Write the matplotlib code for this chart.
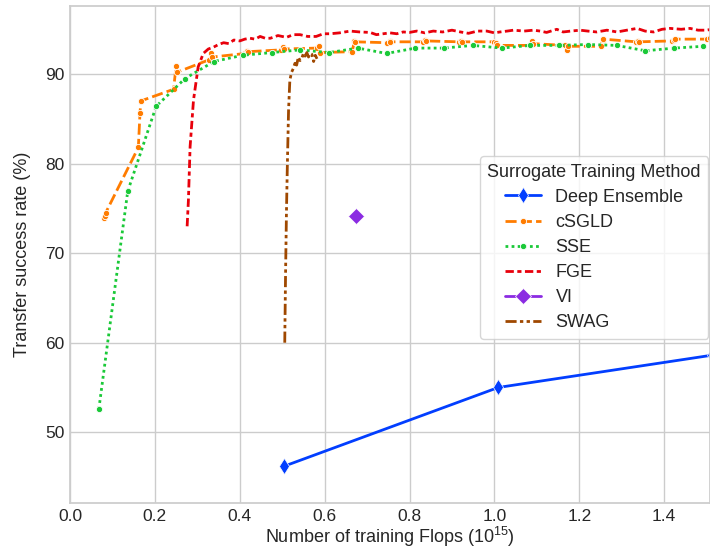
import matplotlib
matplotlib.use("Agg")
import matplotlib.pyplot as plt
import seaborn as sns

sns.set_theme(style="whitegrid")
plt.rcParams["font.family"] = ["Liberation Sans", "DejaVu Sans"]
plt.rcParams["mathtext.fontset"] = "custom"
plt.rcParams["mathtext.rm"] = "Liberation Sans"
plt.rcParams["mathtext.it"] = "Liberation Sans:italic"
plt.rcParams["mathtext.bf"] = "Liberation Sans:bold"

# Deep Ensemble: one point per additional ensemble member
de_flops = [0.504, 1.009, 1.512]
de_acc = [46.2, 55.0, 58.6]

# cSGLD: three samples collected at the end of each cycle
csgld_flops = [
    0.079, 0.082, 0.084,
    0.161, 0.165, 0.167,
    0.244, 0.250, 0.252,
    0.328, 0.333, 0.335,
    0.413, 0.418, 0.420,
    0.497, 0.502, 0.504,
    0.581, 0.586, 0.588,
    0.665, 0.670, 0.672,
    0.748, 0.753, 0.755,
    0.832, 0.837, 0.839,
    0.916, 0.921, 0.923,
    0.999, 1.004, 1.006,
    1.083, 1.088, 1.090,
    1.167, 1.172, 1.174,
    1.250, 1.255, 1.257,
    1.334, 1.339, 1.341,
    1.418, 1.423, 1.425,
    1.502, 1.507, 1.509,
]
csgld_acc = [
    73.9, 74.2, 74.5,
    81.8, 85.7, 87.0,
    88.3, 90.9, 90.2,
    91.6, 92.3, 91.9,
    92.3, 92.6, 92.5,
    92.7, 93.0, 92.8,
    92.9, 93.1, 92.4,
    92.5, 93.7, 93.6,
    93.5, 93.7, 93.6,
    93.6, 93.8, 93.7,
    93.6, 93.7, 93.6,
    93.6, 93.5, 93.2,
    93.2, 93.7, 93.4,
    93.2, 92.7, 93.1,
    93.1, 93.8, 93.9,
    93.6, 93.7, 93.6,
    93.7, 93.8, 93.9,
    93.9, 94.0, 94.0,
]

# SSE: one snapshot per cycle
sse_flops = [0.068, 0.136, 0.203, 0.271, 0.339, 0.407, 0.475, 0.542,
             0.610, 0.678, 0.746, 0.814, 0.881, 0.949, 1.017, 1.085,
             1.153, 1.220, 1.288, 1.356, 1.424, 1.492]
sse_acc = [52.6, 76.9, 86.4, 89.5, 91.4, 92.1, 92.4, 92.7,
           92.4, 92.9, 92.3, 92.9, 92.9, 93.2, 92.9, 93.2,
           93.2, 93.3, 93.2, 92.6, 92.9, 93.1]

# FGE: pretraining followed by many short cycles
fge_flops = [0.276, 0.279, 0.283, 0.291, 0.302, 0.314, 0.326, 0.338, 0.350, 0.362,
             0.374, 0.386, 0.400, 0.412, 0.424, 0.436, 0.448, 0.460, 0.472, 0.490,
             0.510, 0.526, 0.542, 0.560, 0.580, 0.597, 0.613, 0.635, 0.660, 0.683,
             0.707, 0.722, 0.738, 0.754, 0.770, 0.785, 0.800, 0.817, 0.836, 0.856,
             0.878, 0.900, 0.920, 0.939, 0.960, 0.982, 1.000, 1.013, 1.030, 1.045,
             1.070, 1.092, 1.108, 1.123, 1.147, 1.162, 1.180, 1.202, 1.220, 1.241,
             1.265, 1.289, 1.312, 1.336, 1.355, 1.375, 1.395, 1.414, 1.440, 1.461,
             1.480, 1.500, 1.512]
fge_acc = [73.0, 75.9, 81.9, 87.1, 90.8, 92.3, 92.8, 93.0, 93.3, 93.5,
           93.4, 93.8, 93.7, 93.9, 94.0, 93.9, 94.2, 94.0, 94.0, 94.3,
           94.1, 94.4, 94.4, 94.2, 94.2, 94.5, 94.5, 94.6, 94.8, 94.7,
           94.65, 94.4, 94.5, 94.6, 94.5, 94.7, 94.65, 94.8, 94.6, 94.8,
           94.7, 94.9, 94.7, 94.55, 94.8, 94.8, 94.6, 94.7, 94.8, 94.9,
           94.8, 94.9, 94.8, 94.65, 95.0, 94.7, 94.8, 94.9, 94.8, 94.7,
           94.9, 94.7, 94.9, 95.1, 94.8, 94.7, 95.0, 95.1, 95.0, 95.1,
           94.9, 94.9, 95.0]

# VI: single surrogate
vi_flops = [0.675]
vi_acc = [74.1]

# SWAG: pretraining followed by weight-space sampling
swag_flops = [0.506, 0.508, 0.510, 0.512, 0.515, 0.518, 0.522, 0.526, 0.530, 0.534,
              0.538, 0.542, 0.546, 0.550, 0.554, 0.558, 0.562, 0.566, 0.570, 0.574,
              0.578, 0.582]
swag_acc = [60.0, 68.0, 74.5, 79.5, 86.0, 89.3, 90.2, 90.6, 91.2, 91.0,
            91.9, 91.5, 91.75, 92.3, 92.0, 92.4, 91.9, 92.3, 92.2, 91.4,
            92.1, 91.7]

pal = sns.color_palette("bright")
c_blue, c_orange, c_green, c_red, c_purple, c_brown = pal[0], pal[1], pal[2], pal[3], pal[4], pal[5]

fig = plt.figure(figsize=(7.10, 5.51), dpi=100)
ax = fig.add_axes([70 / 710, 48 / 551, 640 / 710, 497 / 551])

lw = 2.0
ax.plot(de_flops, de_acc, color=c_blue, lw=lw, marker="d", ms=8,
        mec="white", mew=0.5, label="Deep Ensemble")
ax.plot(csgld_flops, csgld_acc, color=c_orange, lw=lw, ls="--", dashes=(4, 1.5),
        marker="o", ms=4.5, mec="white", mew=0.6, label="cSGLD")
ax.plot(sse_flops, sse_acc, color=c_green, lw=lw, ls=":", dashes=(1, 1.2),
        marker="o", ms=4.5, mec="white", mew=0.6, label="SSE")
ax.plot(fge_flops, fge_acc, color=c_red, lw=lw, dashes=(3, 1.25, 1.5, 1.25),
        label="FGE")
ax.plot(vi_flops, vi_acc, color=c_purple, lw=lw, marker="D", ms=8,
        mec="white", mew=0.5, label="VI")
ax.plot(swag_flops, swag_acc, color=c_brown, lw=lw, dashes=(4, 1.2, 1.2, 1.2, 1.2, 1.2),
        label="SWAG")

ax.set_xlim(0, 1.508)
ax.set_ylim(42.1, 97.6)
ax.set_xticks([0.0, 0.2, 0.4, 0.6, 0.8, 1.0, 1.2, 1.4])
ax.set_yticks([50, 60, 70, 80, 90])
ax.tick_params(labelsize=12.5, length=0, pad=4)
ax.set_xlabel("Number of training Flops ($10^{15}$)", fontsize=13, labelpad=1)
ax.set_ylabel("Transfer success rate (%)", fontsize=13, labelpad=10)

leg = ax.legend(title="Surrogate Training Method", loc="center right",
                bbox_to_anchor=(1.0, 0.514), borderaxespad=0.1,
                fontsize=13, title_fontsize=13, handlelength=2.0,
                labelspacing=0.45, framealpha=0.8)

fig.savefig("out.png", dpi=100)
